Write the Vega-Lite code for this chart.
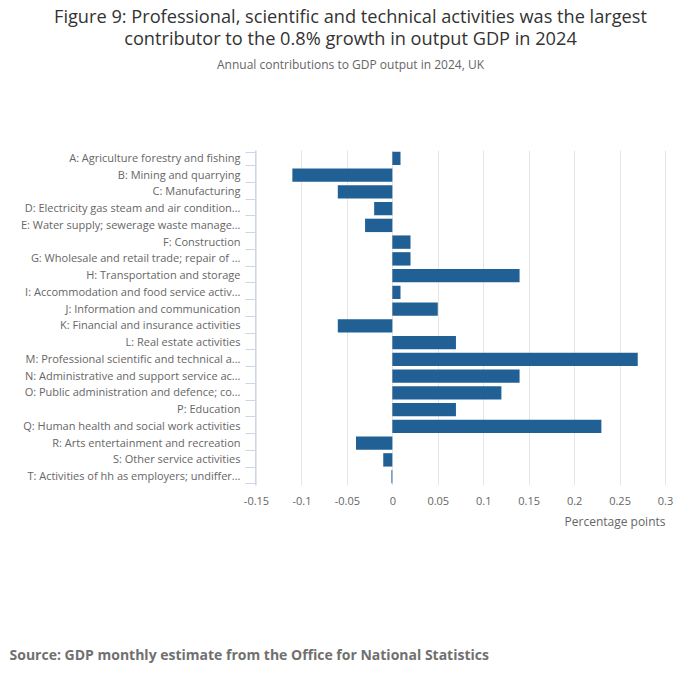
{
  "$schema": "https://vega.github.io/schema/vega-lite/v6.json",
  "autosize": "none",
  "width": 409,
  "height": 335,
  "padding": {"left": 256, "top": 150, "right": 35, "bottom": 197},
  "background": "white",
  "config": {"font": "Open Sans", "view": {"stroke": null}},
  "title": {
    "text": ["Figure 9: Professional, scientific and technical activities was the largest", "contributor to the 0.8% growth in output GDP in 2024"],
    "subtitle": "Annual contributions to GDP output in 2024, UK",
    "anchor": "middle",
    "dx": -110,
    "offset": 72,
    "fontSize": 18.2,
    "fontWeight": "normal",
    "color": "#333333",
    "lineHeight": 22,
    "subtitleFontSize": 12,
    "subtitleColor": "#666666",
    "subtitlePadding": 11
  },
  "data": {
    "values": [
      {"industry": "A: Agriculture forestry and fishing", "value": 0.009},
      {"industry": "B: Mining and quarrying", "value": -0.11},
      {"industry": "C: Manufacturing", "value": -0.06},
      {"industry": "D: Electricity gas steam and air condition...", "value": -0.02},
      {"industry": "E: Water supply; sewerage waste manage...", "value": -0.03},
      {"industry": "F: Construction", "value": 0.02},
      {"industry": "G: Wholesale and retail trade; repair of ...", "value": 0.02},
      {"industry": "H: Transportation and storage", "value": 0.14},
      {"industry": "I: Accommodation and food service activ...", "value": 0.009},
      {"industry": "J: Information and communication", "value": 0.05},
      {"industry": "K: Financial and insurance activities", "value": -0.06},
      {"industry": "L: Real estate activities", "value": 0.07},
      {"industry": "M: Professional scientific and technical a...", "value": 0.27},
      {"industry": "N: Administrative and support service ac...", "value": 0.14},
      {"industry": "O: Public administration and defence; co...", "value": 0.12},
      {"industry": "P: Education", "value": 0.07},
      {"industry": "Q: Human health and social work activities", "value": 0.23},
      {"industry": "R: Arts entertainment and recreation", "value": -0.04},
      {"industry": "S: Other service activities", "value": -0.01},
      {"industry": "T: Activities of hh as employers; undiffer...", "value": -0.001}
    ]
  },
  "mark": {"type": "bar", "color": "#206095"},
  "encoding": {
    "y": {
      "field": "industry",
      "type": "nominal",
      "sort": null,
      "scale": {"paddingInner": 0.2, "paddingOuter": 0.1},
      "axis": {
        "title": "Source: GDP monthly estimate from the Office for National Statistics",
        "titleAngle": 0,
        "titleAlign": "left",
        "titleBaseline": "middle",
        "titleX": -246,
        "titleY": 505,
        "titleFontSize": 14,
        "titleFontWeight": "bold",
        "titleColor": "#707070",
        "domainColor": "#ccd6eb",
        "tickColor": "#ccd6eb",
        "tickBand": "extent",
        "tickSize": 10,
        "labelPadding": 5,
        "labelFontSize": 11,
        "labelColor": "#666666",
        "labelLimit": 400,
        "offset": 1
      }
    },
    "x": {
      "field": "value",
      "type": "quantitative",
      "scale": {"domain": [-0.15, 0.3], "nice": false, "zero": true},
      "axis": {
        "title": "Percentage points",
        "titleAlign": "right",
        "titleAnchor": "end",
        "titleFontSize": 12,
        "titleFontWeight": "normal",
        "titleColor": "#666666",
        "titlePadding": 10,
        "values": [-0.15, -0.1, -0.05, 0, 0.05, 0.1, 0.15, 0.2, 0.25, 0.3],
        "labelExpr": "toString(datum.value)",
        "labelFlush": false,
        "labelFontSize": 11,
        "labelColor": "#666666",
        "labelPadding": 10,
        "domain": false,
        "ticks": false,
        "grid": true,
        "gridColor": "#e6e6e6"
      }
    }
  }
}
